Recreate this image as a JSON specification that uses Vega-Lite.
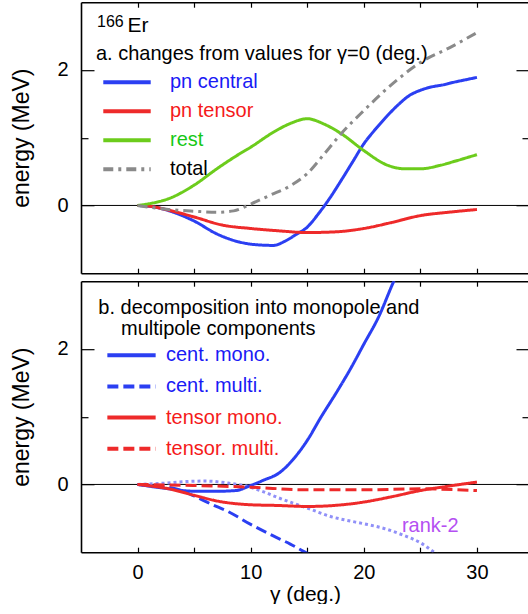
{
  "$schema": "https://vega.github.io/schema/vega-lite/v6.json",
  "padding": {"left": 10, "top": 1.2, "right": 0, "bottom": 0},
  "spacing": 6,
  "config": {
    "font": "Liberation Sans",
    "view": {"stroke": null},
    "axis": {
      "labelFont": "Liberation Sans", "titleFont": "Liberation Sans",
      "labelFontSize": 20, "titleFontSize": 20, "titleFontWeight": "normal",
      "labelColor": "black", "titleColor": "black", "tickColor": "black",
      "domainColor": "black", "domainWidth": 1.6, "tickWidth": 1.2, "grid": false
    },
    "legend": {"labelFont": "Liberation Sans", "labelFontSize": 20, "padding": 0}
  },
  "datasets": {
    "top": [
      {"series": "pn central", "gamma": 0, "energy": 0},
      {"series": "pn central", "gamma": 2, "energy": -0.04},
      {"series": "pn central", "gamma": 3, "energy": -0.09},
      {"series": "pn central", "gamma": 5, "energy": -0.23},
      {"series": "pn central", "gamma": 7, "energy": -0.42},
      {"series": "pn central", "gamma": 9, "energy": -0.54},
      {"series": "pn central", "gamma": 10.5, "energy": -0.58},
      {"series": "pn central", "gamma": 12, "energy": -0.59},
      {"series": "pn central", "gamma": 13, "energy": -0.53},
      {"series": "pn central", "gamma": 14, "energy": -0.43},
      {"series": "pn central", "gamma": 15, "energy": -0.32},
      {"series": "pn central", "gamma": 16, "energy": -0.12},
      {"series": "pn central", "gamma": 17, "energy": 0.11},
      {"series": "pn central", "gamma": 18, "energy": 0.37},
      {"series": "pn central", "gamma": 19, "energy": 0.64},
      {"series": "pn central", "gamma": 20, "energy": 0.91},
      {"series": "pn central", "gamma": 21, "energy": 1.12},
      {"series": "pn central", "gamma": 22, "energy": 1.31},
      {"series": "pn central", "gamma": 23, "energy": 1.48},
      {"series": "pn central", "gamma": 24, "energy": 1.62},
      {"series": "pn central", "gamma": 25, "energy": 1.70},
      {"series": "pn central", "gamma": 26, "energy": 1.75},
      {"series": "pn central", "gamma": 27, "energy": 1.78},
      {"series": "pn central", "gamma": 28, "energy": 1.82},
      {"series": "pn central", "gamma": 29, "energy": 1.855},
      {"series": "pn central", "gamma": 30, "energy": 1.89},
      {"series": "pn tensor", "gamma": 0, "energy": 0},
      {"series": "pn tensor", "gamma": 1, "energy": -0.01},
      {"series": "pn tensor", "gamma": 2.75, "energy": -0.07},
      {"series": "pn tensor", "gamma": 5, "energy": -0.17},
      {"series": "pn tensor", "gamma": 7.5, "energy": -0.29},
      {"series": "pn tensor", "gamma": 10, "energy": -0.34},
      {"series": "pn tensor", "gamma": 12.5, "energy": -0.375},
      {"series": "pn tensor", "gamma": 15, "energy": -0.40},
      {"series": "pn tensor", "gamma": 17.5, "energy": -0.39},
      {"series": "pn tensor", "gamma": 20, "energy": -0.34},
      {"series": "pn tensor", "gamma": 22.5, "energy": -0.25},
      {"series": "pn tensor", "gamma": 25, "energy": -0.15},
      {"series": "pn tensor", "gamma": 27.5, "energy": -0.10},
      {"series": "pn tensor", "gamma": 30, "energy": -0.06},
      {"series": "rest", "gamma": 0, "energy": 0},
      {"series": "rest", "gamma": 1, "energy": 0.025},
      {"series": "rest", "gamma": 2.75, "energy": 0.10},
      {"series": "rest", "gamma": 5, "energy": 0.30},
      {"series": "rest", "gamma": 7, "energy": 0.54},
      {"series": "rest", "gamma": 9, "energy": 0.76},
      {"series": "rest", "gamma": 10, "energy": 0.86},
      {"series": "rest", "gamma": 12, "energy": 1.08},
      {"series": "rest", "gamma": 13.5, "energy": 1.21},
      {"series": "rest", "gamma": 15, "energy": 1.28},
      {"series": "rest", "gamma": 16.5, "energy": 1.20},
      {"series": "rest", "gamma": 18, "energy": 1.06},
      {"series": "rest", "gamma": 20, "energy": 0.81},
      {"series": "rest", "gamma": 22, "energy": 0.60},
      {"series": "rest", "gamma": 23.7, "energy": 0.54},
      {"series": "rest", "gamma": 25, "energy": 0.54},
      {"series": "rest", "gamma": 26.7, "energy": 0.59},
      {"series": "rest", "gamma": 28.2, "energy": 0.66},
      {"series": "rest", "gamma": 30, "energy": 0.75},
      {"series": "total", "gamma": 0, "energy": 0},
      {"series": "total", "gamma": 2.75, "energy": -0.06},
      {"series": "total", "gamma": 5, "energy": -0.085},
      {"series": "total", "gamma": 7, "energy": -0.10},
      {"series": "total", "gamma": 8.5, "energy": -0.08},
      {"series": "total", "gamma": 10, "energy": 0.02},
      {"series": "total", "gamma": 11.7, "energy": 0.15},
      {"series": "total", "gamma": 13.5, "energy": 0.29},
      {"series": "total", "gamma": 15, "energy": 0.47},
      {"series": "total", "gamma": 16.5, "energy": 0.76},
      {"series": "total", "gamma": 18, "energy": 1.06},
      {"series": "total", "gamma": 20, "energy": 1.40},
      {"series": "total", "gamma": 22.5, "energy": 1.79},
      {"series": "total", "gamma": 25, "energy": 2.11},
      {"series": "total", "gamma": 27.6, "energy": 2.33},
      {"series": "total", "gamma": 30, "energy": 2.55}
    ],
    "bottom": [
      {"series": "cent. mono.", "gamma": 0, "energy": 0},
      {"series": "cent. mono.", "gamma": 2.75, "energy": -0.064},
      {"series": "cent. mono.", "gamma": 5, "energy": -0.10},
      {"series": "cent. mono.", "gamma": 7.2, "energy": -0.10},
      {"series": "cent. mono.", "gamma": 8.7, "energy": -0.09},
      {"series": "cent. mono.", "gamma": 10, "energy": -0.015},
      {"series": "cent. mono.", "gamma": 11.1, "energy": 0.06},
      {"series": "cent. mono.", "gamma": 12.6, "energy": 0.18},
      {"series": "cent. mono.", "gamma": 13.8, "energy": 0.38},
      {"series": "cent. mono.", "gamma": 15, "energy": 0.65},
      {"series": "cent. mono.", "gamma": 16.2, "energy": 0.99},
      {"series": "cent. mono.", "gamma": 17.7, "energy": 1.39},
      {"series": "cent. mono.", "gamma": 18.9, "energy": 1.73},
      {"series": "cent. mono.", "gamma": 20, "energy": 2.07},
      {"series": "cent. mono.", "gamma": 21.3, "energy": 2.47},
      {"series": "cent. mono.", "gamma": 22.65, "energy": 3.0},
      {"series": "cent. mono.", "gamma": 23.5, "energy": 3.3},
      {"series": "cent. multi.", "gamma": 0, "energy": 0},
      {"series": "cent. multi.", "gamma": 2, "energy": -0.03},
      {"series": "cent. multi.", "gamma": 3.25, "energy": -0.06},
      {"series": "cent. multi.", "gamma": 5, "energy": -0.17},
      {"series": "cent. multi.", "gamma": 6.5, "energy": -0.29},
      {"series": "cent. multi.", "gamma": 8, "energy": -0.40},
      {"series": "cent. multi.", "gamma": 10, "energy": -0.59},
      {"series": "cent. multi.", "gamma": 12, "energy": -0.76},
      {"series": "cent. multi.", "gamma": 13.5, "energy": -0.88},
      {"series": "cent. multi.", "gamma": 14.8, "energy": -1.0},
      {"series": "cent. multi.", "gamma": 16, "energy": -1.1},
      {"series": "tensor mono.", "gamma": 0, "energy": 0},
      {"series": "tensor mono.", "gamma": 2.75, "energy": -0.064},
      {"series": "tensor mono.", "gamma": 5, "energy": -0.16},
      {"series": "tensor mono.", "gamma": 7.2, "energy": -0.25},
      {"series": "tensor mono.", "gamma": 10, "energy": -0.30},
      {"series": "tensor mono.", "gamma": 12.3, "energy": -0.31},
      {"series": "tensor mono.", "gamma": 15, "energy": -0.325},
      {"series": "tensor mono.", "gamma": 17.4, "energy": -0.31},
      {"series": "tensor mono.", "gamma": 20, "energy": -0.26},
      {"series": "tensor mono.", "gamma": 22.5, "energy": -0.18},
      {"series": "tensor mono.", "gamma": 25, "energy": -0.09},
      {"series": "tensor mono.", "gamma": 27.3, "energy": -0.03},
      {"series": "tensor mono.", "gamma": 30, "energy": 0.035},
      {"series": "tensor. multi.", "gamma": 0, "energy": 0},
      {"series": "tensor. multi.", "gamma": 4.9, "energy": -0.015},
      {"series": "tensor. multi.", "gamma": 10, "energy": -0.04},
      {"series": "tensor. multi.", "gamma": 15, "energy": -0.08},
      {"series": "tensor. multi.", "gamma": 20, "energy": -0.08},
      {"series": "tensor. multi.", "gamma": 25, "energy": -0.065},
      {"series": "tensor. multi.", "gamma": 30, "energy": -0.09},
      {"series": "rank-2", "gamma": 0, "energy": 0},
      {"series": "rank-2", "gamma": 2, "energy": 0.015},
      {"series": "rank-2", "gamma": 4, "energy": 0.04},
      {"series": "rank-2", "gamma": 6, "energy": 0.05},
      {"series": "rank-2", "gamma": 8, "energy": 0.02},
      {"series": "rank-2", "gamma": 9.5, "energy": -0.02},
      {"series": "rank-2", "gamma": 11, "energy": -0.1},
      {"series": "rank-2", "gamma": 12.5, "energy": -0.2},
      {"series": "rank-2", "gamma": 14, "energy": -0.29},
      {"series": "rank-2", "gamma": 15.5, "energy": -0.38},
      {"series": "rank-2", "gamma": 17, "energy": -0.47},
      {"series": "rank-2", "gamma": 18.5, "energy": -0.53},
      {"series": "rank-2", "gamma": 20, "energy": -0.58},
      {"series": "rank-2", "gamma": 22, "energy": -0.66},
      {"series": "rank-2", "gamma": 23.5, "energy": -0.75},
      {"series": "rank-2", "gamma": 25, "energy": -0.86},
      {"series": "rank-2", "gamma": 26.2, "energy": -1.0},
      {"series": "rank-2", "gamma": 27, "energy": -1.1}
    ]
  },
  "resolve": {"scale": {"color": "independent", "strokeDash": "independent"}},
  "vconcat": [
    {
      "width": 448, "height": 271,
      "resolve": {"axis": {"x": "independent", "y": "independent"}},
      "layer": [
        {
          "layer": [
            {
              "data": {"values": [{}]},
              "mark": {"type": "rule", "color": "black", "strokeWidth": 1},
              "encoding": {"y": {"datum": 0, "type": "quantitative"}}
            },
            {
              "data": {"name": "top"},
              "mark": {"type": "line", "strokeWidth": 3, "clip": true, "interpolate": "monotone"},
              "encoding": {
                "x": {"field": "gamma", "type": "quantitative",
                      "scale": {"domain": [-5, 34.6], "nice": false, "zero": false},
                      "axis": {"orient": "bottom", "values": [0, 5, 10, 15, 20, 25, 30], "tickSize": -5, "labels": false, "title": null, "domain": true}},
                "y": {"field": "energy", "type": "quantitative",
                      "scale": {"domain": [-1, 3], "nice": false, "zero": false},
                      "axis": {"orient": "left", "values": [0, 1, 2], "format": "d", "labelExpr": "datum.value == 1 ? '' : datum.label",
                               "tickSize": {"condition": {"test": "datum.value == 1", "value": -7}, "value": -13}, "labelPadding": 26, "title": "energy (MeV)", "titleFontSize": 23, "titlePadding": 23, "domain": true}},
                "color": {"field": "series", "type": "nominal",
                          "scale": {"domain": ["pn central", "pn tensor", "rest", "total"], "range": ["#2b3ff2", "#ee2a2a", "#6ccc1c", "#8a8a8a"]},
                          "legend": {"orient": "none", "legendX": 20, "legendY": 70, "title": null, "symbolType": "stroke", "symbolSize": 2250, "symbolStrokeWidth": 4, "clipHeight": 20, "rowPadding": 9, "labelOffset": 17, "labelFontSize": 20, "labelLimit": 300,
                                     "encode": {"labels": {"update": {"fill": {"signal": "datum.label == 'pn central' ? '#1a1af5' : datum.label == 'pn tensor' ? '#f51a1a' : datum.label == 'rest' ? '#16c816' : 'black'"}}}}}},
                "strokeDash": {"field": "series", "type": "nominal",
                          "scale": {"domain": ["pn central", "pn tensor", "rest", "total"], "range": [[1, 0], [1, 0], [1, 0], [10, 5, 3, 5]]},
                          "legend": {"orient": "none", "legendX": 20, "legendY": 70, "title": null, "symbolType": "stroke", "symbolSize": 2250, "symbolStrokeWidth": 4, "clipHeight": 20, "rowPadding": 9, "labelOffset": 17, "labelFontSize": 20, "labelLimit": 300,
                                     "encode": {"labels": {"update": {"fill": {"signal": "datum.label == 'pn central' ? '#1a1af5' : datum.label == 'pn tensor' ? '#f51a1a' : datum.label == 'rest' ? '#16c816' : 'black'"}}}}}}
              }
            },
            {
              "data": {"values": [{}]},
              "mark": {"type": "text", "align": "left", "baseline": "alphabetic", "fontSize": 16, "font": "Liberation Sans", "color": "black", "text": "166"},
              "encoding": {"x": {"datum": -3.586, "type": "quantitative"}, "y": {"datum": 2.635, "type": "quantitative"}}
            },
            {
              "data": {"values": [{}]},
              "mark": {"type": "text", "align": "left", "baseline": "alphabetic", "fontSize": 21, "font": "Liberation Sans", "color": "black", "text": "Er"},
              "encoding": {"x": {"datum": -0.9, "type": "quantitative"}, "y": {"datum": 2.553, "type": "quantitative"}}
            },
            {
              "data": {"values": [{}]},
              "mark": {"type": "text", "align": "left", "baseline": "alphabetic", "fontSize": 20, "font": "Liberation Sans", "color": "black", "text": "a. changes from values for γ=0 (deg.)"},
              "encoding": {"x": {"datum": -3.674, "type": "quantitative"}, "y": {"datum": 2.154, "type": "quantitative"}}
            }
          ]
        },
        {
          "data": {"values": [{}]},
          "mark": {"type": "point", "opacity": 0},
          "encoding": {
            "x": {"datum": 0, "type": "quantitative", "axis": {"orient": "top", "values": [0, 5, 10, 15, 20, 25, 30], "tickSize": -5, "labels": false, "title": null, "domain": true}},
            "y": {"datum": 0, "type": "quantitative", "axis": {"orient": "right", "values": [0, 1, 2], "tickSize": {"condition": {"test": "datum.value == 1", "value": -7}, "value": -13}, "labels": false, "title": null, "domain": false}}
          }
        }
      ]
    },
    {
      "width": 448, "height": 271,
      "resolve": {"axis": {"x": "independent", "y": "independent"}},
      "layer": [
        {
          "layer": [
            {
              "data": {"values": [{}]},
              "mark": {"type": "rule", "color": "black", "strokeWidth": 1},
              "encoding": {"y": {"datum": 0, "type": "quantitative"}}
            },
            {
              "data": {"name": "bottom"},
              "transform": [{"filter": "datum.series == 'rank-2'"}],
              "mark": {"type": "line", "strokeWidth": 3, "clip": true, "interpolate": "monotone", "color": "#9090f8", "strokeDash": [3, 3]},
              "encoding": {
                "x": {"field": "gamma", "type": "quantitative"},
                "y": {"field": "energy", "type": "quantitative"}
              }
            },
            {
              "data": {"name": "bottom"},
              "transform": [{"filter": "datum.series != 'rank-2'"}],
              "mark": {"type": "line", "strokeWidth": 3, "clip": true, "interpolate": "monotone"},
              "encoding": {
                "x": {"field": "gamma", "type": "quantitative",
                      "scale": {"domain": [-5, 34.6], "nice": false, "zero": false},
                      "axis": {"orient": "bottom", "values": [0, 5, 10, 15, 20, 25, 30], "tickSize": -5, "labelExpr": "datum.value % 10 == 0 ? datum.label : ''", "labelPadding": 15, "title": "γ (deg.)", "titleFontSize": 21, "titlePadding": 1, "domain": true}},
                "y": {"field": "energy", "type": "quantitative",
                      "scale": {"domain": [-1, 3], "nice": false, "zero": false},
                      "axis": {"orient": "left", "values": [0, 1, 2], "format": "d", "labelExpr": "datum.value == 1 ? '' : datum.label",
                               "tickSize": {"condition": {"test": "datum.value == 1", "value": -7}, "value": -13}, "labelPadding": 26, "title": "energy (MeV)", "titleFontSize": 23, "titlePadding": 23, "domain": true}},
                "color": {"field": "series", "type": "nominal",
                          "scale": {"domain": ["cent. mono.", "cent. multi.", "tensor mono.", "tensor. multi."], "range": ["#2b3ff2", "#2b3ff2", "#ee2a2a", "#ee2a2a"]},
                          "legend": {"orient": "none", "legendX": 24, "legendY": 64, "title": null, "symbolType": "stroke", "symbolSize": 2333, "symbolStrokeWidth": 4, "clipHeight": 20, "rowPadding": 11.2, "labelOffset": 8, "labelFontSize": 20, "labelLimit": 300,
                                     "encode": {"labels": {"update": {"fill": {"signal": "indexof(datum.label, 'cent') == 0 ? '#1a1af5' : '#f51a1a'"}}}}}},
                "strokeDash": {"field": "series", "type": "nominal",
                          "scale": {"domain": ["cent. mono.", "cent. multi.", "tensor mono.", "tensor. multi."], "range": [[1, 0], [11, 5], [1, 0], [11, 5]]},
                          "legend": {"orient": "none", "legendX": 24, "legendY": 64, "title": null, "symbolType": "stroke", "symbolSize": 2333, "symbolStrokeWidth": 4, "clipHeight": 20, "rowPadding": 11.2, "labelOffset": 8, "labelFontSize": 20, "labelLimit": 300,
                                     "encode": {"labels": {"update": {"fill": {"signal": "indexof(datum.label, 'cent') == 0 ? '#1a1af5' : '#f51a1a'"}}}}}}
              }
            },
            {
              "data": {"values": [{}]},
              "mark": {"type": "text", "align": "left", "baseline": "alphabetic", "fontSize": 20, "font": "Liberation Sans", "color": "black", "text": "b. decomposition into monopole and"},
              "encoding": {"x": {"datum": -3.47, "type": "quantitative"}, "y": {"datum": 2.523, "type": "quantitative"}}
            },
            {
              "data": {"values": [{}]},
              "mark": {"type": "text", "align": "left", "baseline": "alphabetic", "fontSize": 20, "font": "Liberation Sans", "color": "black", "text": "multipole components"},
              "encoding": {"x": {"datum": -1.464, "type": "quantitative"}, "y": {"datum": 2.203, "type": "quantitative"}}
            },
            {
              "data": {"values": [{}]},
              "mark": {"type": "text", "align": "left", "baseline": "alphabetic", "fontSize": 20, "font": "Liberation Sans", "color": "#b44ff2", "text": "rank-2"},
              "encoding": {"x": {"datum": 23.37, "type": "quantitative"}, "y": {"datum": -0.709, "type": "quantitative"}}
            }
          ]
        },
        {
          "data": {"values": [{}]},
          "mark": {"type": "point", "opacity": 0},
          "encoding": {
            "x": {"datum": 0, "type": "quantitative", "axis": {"orient": "top", "values": [0, 5, 10, 15, 20, 25, 30], "tickSize": -5, "labels": false, "title": null, "domain": true}},
            "y": {"datum": 0, "type": "quantitative", "axis": {"orient": "right", "values": [0, 1, 2], "tickSize": {"condition": {"test": "datum.value == 1", "value": -7}, "value": -13}, "labels": false, "title": null, "domain": false}}
          }
        }
      ]
    }
  ]
}
